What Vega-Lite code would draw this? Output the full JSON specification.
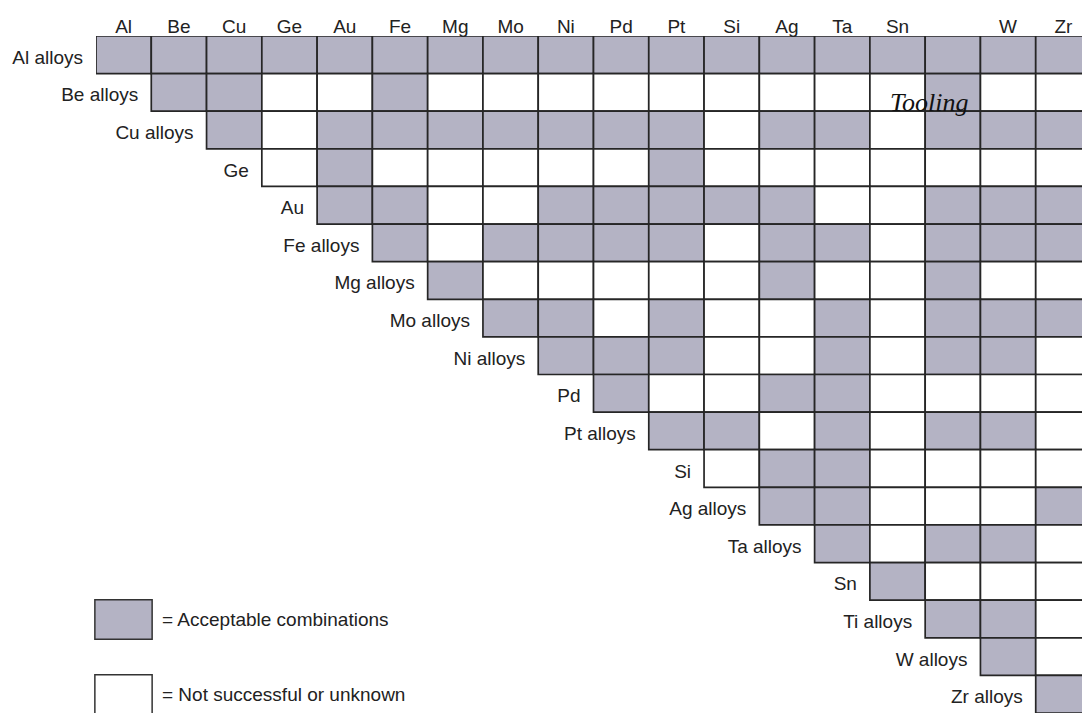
{
"$schema": "https://vega.github.io/schema/vega-lite/v6.json",
"width": 986,
"height": 677,
"autosize": {"type": "none"},
"padding": {"left": 96, "top": 36, "right": 0, "bottom": 0},
"background": "white",
"config": {"view": {"stroke": null}, "font": "Liberation Sans"},
"datasets": {
"status": [{"s": "A", "label": "Acceptable combinations"}, {"s": "N", "label": "Not successful or unknown"}],
"notes": [{"r": "Be alloys", "c": "Ti", "text": "Tooling"}],
"rows": [
{"r": "Al alloys", "c": "Al"}, {"r": "Be alloys", "c": "Be"}, {"r": "Cu alloys", "c": "Cu"}, {"r": "Ge", "c": "Ge"}, {"r": "Au", "c": "Au"}, {"r": "Fe alloys", "c": "Fe"}, {"r": "Mg alloys", "c": "Mg"}, {"r": "Mo alloys", "c": "Mo"}, {"r": "Ni alloys", "c": "Ni"}, {"r": "Pd", "c": "Pd"}, {"r": "Pt alloys", "c": "Pt"}, {"r": "Si", "c": "Si"}, {"r": "Ag alloys", "c": "Ag"}, {"r": "Ta alloys", "c": "Ta"}, {"r": "Sn", "c": "Sn"}, {"r": "Ti alloys", "c": "Ti"}, {"r": "W alloys", "c": "W"}, {"r": "Zr alloys", "c": "Zr"}
],
"cells": [
{"r": "Al alloys", "c": "Al", "s": "A"}, {"r": "Al alloys", "c": "Be", "s": "A"}, {"r": "Al alloys", "c": "Cu", "s": "A"}, {"r": "Al alloys", "c": "Ge", "s": "A"}, {"r": "Al alloys", "c": "Au", "s": "A"}, {"r": "Al alloys", "c": "Fe", "s": "A"}, {"r": "Al alloys", "c": "Mg", "s": "A"}, {"r": "Al alloys", "c": "Mo", "s": "A"}, {"r": "Al alloys", "c": "Ni", "s": "A"}, {"r": "Al alloys", "c": "Pd", "s": "A"}, {"r": "Al alloys", "c": "Pt", "s": "A"}, {"r": "Al alloys", "c": "Si", "s": "A"}, {"r": "Al alloys", "c": "Ag", "s": "A"}, {"r": "Al alloys", "c": "Ta", "s": "A"}, {"r": "Al alloys", "c": "Sn", "s": "A"}, {"r": "Al alloys", "c": "Ti", "s": "A"}, {"r": "Al alloys", "c": "W", "s": "A"}, {"r": "Al alloys", "c": "Zr", "s": "A"},
{"r": "Be alloys", "c": "Be", "s": "A"}, {"r": "Be alloys", "c": "Cu", "s": "A"}, {"r": "Be alloys", "c": "Ge", "s": "N"}, {"r": "Be alloys", "c": "Au", "s": "N"}, {"r": "Be alloys", "c": "Fe", "s": "A"}, {"r": "Be alloys", "c": "Mg", "s": "N"}, {"r": "Be alloys", "c": "Mo", "s": "N"}, {"r": "Be alloys", "c": "Ni", "s": "N"}, {"r": "Be alloys", "c": "Pd", "s": "N"}, {"r": "Be alloys", "c": "Pt", "s": "N"}, {"r": "Be alloys", "c": "Si", "s": "N"}, {"r": "Be alloys", "c": "Ag", "s": "N"}, {"r": "Be alloys", "c": "Ta", "s": "N"}, {"r": "Be alloys", "c": "Sn", "s": "N"}, {"r": "Be alloys", "c": "Ti", "s": "A"}, {"r": "Be alloys", "c": "W", "s": "N"}, {"r": "Be alloys", "c": "Zr", "s": "N"},
{"r": "Cu alloys", "c": "Cu", "s": "A"}, {"r": "Cu alloys", "c": "Ge", "s": "N"}, {"r": "Cu alloys", "c": "Au", "s": "A"}, {"r": "Cu alloys", "c": "Fe", "s": "A"}, {"r": "Cu alloys", "c": "Mg", "s": "A"}, {"r": "Cu alloys", "c": "Mo", "s": "A"}, {"r": "Cu alloys", "c": "Ni", "s": "A"}, {"r": "Cu alloys", "c": "Pd", "s": "A"}, {"r": "Cu alloys", "c": "Pt", "s": "A"}, {"r": "Cu alloys", "c": "Si", "s": "N"}, {"r": "Cu alloys", "c": "Ag", "s": "A"}, {"r": "Cu alloys", "c": "Ta", "s": "A"}, {"r": "Cu alloys", "c": "Sn", "s": "N"}, {"r": "Cu alloys", "c": "Ti", "s": "A"}, {"r": "Cu alloys", "c": "W", "s": "A"}, {"r": "Cu alloys", "c": "Zr", "s": "A"},
{"r": "Ge", "c": "Ge", "s": "N"}, {"r": "Ge", "c": "Au", "s": "A"}, {"r": "Ge", "c": "Fe", "s": "N"}, {"r": "Ge", "c": "Mg", "s": "N"}, {"r": "Ge", "c": "Mo", "s": "N"}, {"r": "Ge", "c": "Ni", "s": "N"}, {"r": "Ge", "c": "Pd", "s": "N"}, {"r": "Ge", "c": "Pt", "s": "A"}, {"r": "Ge", "c": "Si", "s": "N"}, {"r": "Ge", "c": "Ag", "s": "N"}, {"r": "Ge", "c": "Ta", "s": "N"}, {"r": "Ge", "c": "Sn", "s": "N"}, {"r": "Ge", "c": "Ti", "s": "N"}, {"r": "Ge", "c": "W", "s": "N"}, {"r": "Ge", "c": "Zr", "s": "N"},
{"r": "Au", "c": "Au", "s": "A"}, {"r": "Au", "c": "Fe", "s": "A"}, {"r": "Au", "c": "Mg", "s": "N"}, {"r": "Au", "c": "Mo", "s": "N"}, {"r": "Au", "c": "Ni", "s": "A"}, {"r": "Au", "c": "Pd", "s": "A"}, {"r": "Au", "c": "Pt", "s": "A"}, {"r": "Au", "c": "Si", "s": "A"}, {"r": "Au", "c": "Ag", "s": "A"}, {"r": "Au", "c": "Ta", "s": "N"}, {"r": "Au", "c": "Sn", "s": "N"}, {"r": "Au", "c": "Ti", "s": "A"}, {"r": "Au", "c": "W", "s": "A"}, {"r": "Au", "c": "Zr", "s": "A"},
{"r": "Fe alloys", "c": "Fe", "s": "A"}, {"r": "Fe alloys", "c": "Mg", "s": "N"}, {"r": "Fe alloys", "c": "Mo", "s": "A"}, {"r": "Fe alloys", "c": "Ni", "s": "A"}, {"r": "Fe alloys", "c": "Pd", "s": "A"}, {"r": "Fe alloys", "c": "Pt", "s": "A"}, {"r": "Fe alloys", "c": "Si", "s": "N"}, {"r": "Fe alloys", "c": "Ag", "s": "A"}, {"r": "Fe alloys", "c": "Ta", "s": "A"}, {"r": "Fe alloys", "c": "Sn", "s": "N"}, {"r": "Fe alloys", "c": "Ti", "s": "A"}, {"r": "Fe alloys", "c": "W", "s": "A"}, {"r": "Fe alloys", "c": "Zr", "s": "A"},
{"r": "Mg alloys", "c": "Mg", "s": "A"}, {"r": "Mg alloys", "c": "Mo", "s": "N"}, {"r": "Mg alloys", "c": "Ni", "s": "N"}, {"r": "Mg alloys", "c": "Pd", "s": "N"}, {"r": "Mg alloys", "c": "Pt", "s": "N"}, {"r": "Mg alloys", "c": "Si", "s": "N"}, {"r": "Mg alloys", "c": "Ag", "s": "A"}, {"r": "Mg alloys", "c": "Ta", "s": "N"}, {"r": "Mg alloys", "c": "Sn", "s": "N"}, {"r": "Mg alloys", "c": "Ti", "s": "A"}, {"r": "Mg alloys", "c": "W", "s": "N"}, {"r": "Mg alloys", "c": "Zr", "s": "N"},
{"r": "Mo alloys", "c": "Mo", "s": "A"}, {"r": "Mo alloys", "c": "Ni", "s": "A"}, {"r": "Mo alloys", "c": "Pd", "s": "N"}, {"r": "Mo alloys", "c": "Pt", "s": "A"}, {"r": "Mo alloys", "c": "Si", "s": "N"}, {"r": "Mo alloys", "c": "Ag", "s": "N"}, {"r": "Mo alloys", "c": "Ta", "s": "A"}, {"r": "Mo alloys", "c": "Sn", "s": "N"}, {"r": "Mo alloys", "c": "Ti", "s": "A"}, {"r": "Mo alloys", "c": "W", "s": "A"}, {"r": "Mo alloys", "c": "Zr", "s": "A"},
{"r": "Ni alloys", "c": "Ni", "s": "A"}, {"r": "Ni alloys", "c": "Pd", "s": "A"}, {"r": "Ni alloys", "c": "Pt", "s": "A"}, {"r": "Ni alloys", "c": "Si", "s": "N"}, {"r": "Ni alloys", "c": "Ag", "s": "N"}, {"r": "Ni alloys", "c": "Ta", "s": "A"}, {"r": "Ni alloys", "c": "Sn", "s": "N"}, {"r": "Ni alloys", "c": "Ti", "s": "A"}, {"r": "Ni alloys", "c": "W", "s": "A"}, {"r": "Ni alloys", "c": "Zr", "s": "N"},
{"r": "Pd", "c": "Pd", "s": "A"}, {"r": "Pd", "c": "Pt", "s": "N"}, {"r": "Pd", "c": "Si", "s": "N"}, {"r": "Pd", "c": "Ag", "s": "A"}, {"r": "Pd", "c": "Ta", "s": "A"}, {"r": "Pd", "c": "Sn", "s": "N"}, {"r": "Pd", "c": "Ti", "s": "N"}, {"r": "Pd", "c": "W", "s": "N"}, {"r": "Pd", "c": "Zr", "s": "N"},
{"r": "Pt alloys", "c": "Pt", "s": "A"}, {"r": "Pt alloys", "c": "Si", "s": "A"}, {"r": "Pt alloys", "c": "Ag", "s": "N"}, {"r": "Pt alloys", "c": "Ta", "s": "A"}, {"r": "Pt alloys", "c": "Sn", "s": "N"}, {"r": "Pt alloys", "c": "Ti", "s": "A"}, {"r": "Pt alloys", "c": "W", "s": "A"}, {"r": "Pt alloys", "c": "Zr", "s": "N"},
{"r": "Si", "c": "Si", "s": "N"}, {"r": "Si", "c": "Ag", "s": "A"}, {"r": "Si", "c": "Ta", "s": "A"}, {"r": "Si", "c": "Sn", "s": "N"}, {"r": "Si", "c": "Ti", "s": "N"}, {"r": "Si", "c": "W", "s": "N"}, {"r": "Si", "c": "Zr", "s": "N"},
{"r": "Ag alloys", "c": "Ag", "s": "A"}, {"r": "Ag alloys", "c": "Ta", "s": "A"}, {"r": "Ag alloys", "c": "Sn", "s": "N"}, {"r": "Ag alloys", "c": "Ti", "s": "N"}, {"r": "Ag alloys", "c": "W", "s": "N"}, {"r": "Ag alloys", "c": "Zr", "s": "A"},
{"r": "Ta alloys", "c": "Ta", "s": "A"}, {"r": "Ta alloys", "c": "Sn", "s": "N"}, {"r": "Ta alloys", "c": "Ti", "s": "A"}, {"r": "Ta alloys", "c": "W", "s": "A"}, {"r": "Ta alloys", "c": "Zr", "s": "N"},
{"r": "Sn", "c": "Sn", "s": "A"}, {"r": "Sn", "c": "Ti", "s": "N"}, {"r": "Sn", "c": "W", "s": "N"}, {"r": "Sn", "c": "Zr", "s": "N"},
{"r": "Ti alloys", "c": "Ti", "s": "A"}, {"r": "Ti alloys", "c": "W", "s": "A"}, {"r": "Ti alloys", "c": "Zr", "s": "N"},
{"r": "W alloys", "c": "W", "s": "A"}, {"r": "W alloys", "c": "Zr", "s": "N"},
{"r": "Zr alloys", "c": "Zr", "s": "A"}
]
},
"encoding": {
"x": {"field": "c", "type": "nominal", "sort": null,
"scale": {"domain": ["Al", "Be", "Cu", "Ge", "Au", "Fe", "Mg", "Mo", "Ni", "Pd", "Pt", "Si", "Ag", "Ta", "Sn", "Ti", "W", "Zr"], "range": [0, 995], "paddingInner": 0, "paddingOuter": 0},
"axis": {"orient": "top", "title": null, "domain": false, "ticks": false, "grid": false, "labelAngle": 0, "labelFont": "Liberation Sans", "labelFontSize": 19, "labelColor": "#222", "labelBaseline": "alphabetic", "labelPadding": 4, "labelExpr": "datum.value == 'Ti' ? '' : datum.value"}},
"y": {"field": "r", "type": "nominal", "sort": null,
"scale": {"domain": ["Al alloys", "Be alloys", "Cu alloys", "Ge", "Au", "Fe alloys", "Mg alloys", "Mo alloys", "Ni alloys", "Pd", "Pt alloys", "Si", "Ag alloys", "Ta alloys", "Sn", "Ti alloys", "W alloys", "Zr alloys"], "paddingInner": 0, "paddingOuter": 0},
"axis": null}
},
"layer": [
{
"data": {"name": "cells"},
"transform": [{"lookup": "s", "from": {"data": {"name": "status"}, "key": "s", "fields": ["label"]}}],
"mark": {"type": "rect", "stroke": "#262626", "strokeWidth": 1.7, "clip": true},
"encoding": {
"color": {"field": "label", "type": "nominal",
"scale": {"domain": ["Acceptable combinations", "Not successful or unknown"], "range": ["#b4b3c4", "#ffffff"]},
"legend": {"orient": "none", "legendX": 7, "legendY": 563, "title": null, "padding": 0,
"symbolType": "M-1.45,-1H1.45V1H-1.45Z", "symbolSize": 1560, "symbolStrokeColor": "#333", "symbolStrokeWidth": 1.5, "symbolOpacity": 1,
"labelFont": "Liberation Sans", "labelFontSize": 19, "labelColor": "#222", "labelExpr": "'= ' + datum.label", "labelOffset": 18, "labelLimit": 500, "rowPadding": 28}}
}
},
{
"data": {"name": "rows"},
"mark": {"type": "text", "align": "right", "baseline": "alphabetic", "dx": -13, "dy": 9, "fontSize": 19, "font": "Liberation Sans", "color": "#222"},
"encoding": {
"x": {"field": "c", "type": "nominal", "bandPosition": 0},
"text": {"field": "r"}
}
},
{
"data": {"name": "notes"},
"mark": {"type": "text", "align": "center", "baseline": "alphabetic", "dx": 4, "dy": 19, "fontSize": 26, "font": "Liberation Serif", "fontStyle": "italic", "color": "#111"},
"encoding": {
"x": {"field": "c", "type": "nominal", "bandPosition": 0},
"text": {"field": "text"}
}
}
]
}
